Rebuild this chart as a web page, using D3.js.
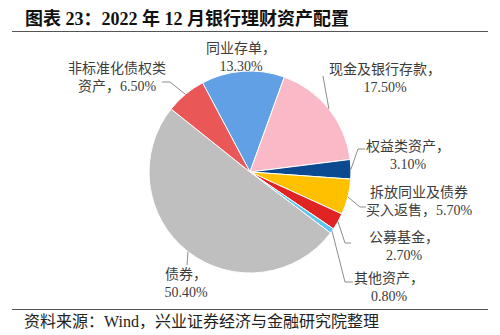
<!DOCTYPE html>
<html>
<head>
<meta charset="utf-8">
<script src="https://cdn.jsdelivr.net/npm/d3@7"></script>
<style>
  html, body { margin: 0; padding: 0; background: #fff; }
  svg { display: block; }
  text { font-family: "Liberation Serif", "Noto Sans CJK SC", serif; }
</style>
</head>
<body>
<svg id="chart" width="500" height="335"></svg>
<script>
// 2022年12月银行理财资产配置（占比，%）
const categories = ["同业存单", "现金及银行存款", "权益类资产", "拆放同业及债券买入返售", "公募基金", "其他资产", "债券", "非标准化债权类资产"];
const shares = [13.3, 17.5, 3.1, 5.7, 2.7, 0.8, 50.4, 6.5];
const valueLabels = ["13.30%", "17.50%", "3.10%", "5.70%", "2.70%", "0.80%", "50.40%", "6.50%"];

// Slice colours
const colors = ["#62A0E6", "#F9B9C7", "#0B4A90", "#FFC000", "#E02424", "#5CC6EF", "#BFBFBF", "#E95757"];

// Label placement: text lines, anchor point and leader line (bend, end)
const labelLayout = [
  { lines: ["同业存单，", "13.30%"], x: 241, y: 53, leader: null },
  { lines: ["现金及银行存款，", "17.50%"], x: 385, y: 74, leader: [[323, 76]] },
  { lines: ["权益类资产，", "3.10%"], x: 408, y: 151, leader: [[358, 149], [365, 149]] },
  { lines: ["拆放同业及债券", "买入返售，5.70%"], x: 419, y: 197, leader: [[360, 207], [366, 207]] },
  { lines: ["公募基金，", "2.70%"], x: 404, y: 242, leader: [[345, 243], [351, 243]] },
  { lines: ["其他资产，", "0.80%"], x: 389, y: 283, leader: [[345, 282], [353, 282]] },
  { lines: ["债券，", "50.40%"], x: 186, y: 279, leader: [[187, 265]] },
  { lines: ["非标准化债权类", "资产，6.50%"], x: 117, y: 73, leader: [[170, 82], [162, 82]] }
];

const svg = d3.select("#chart");
const cx = 250, cy = 172, radius = 101;

// Title
svg.append("text")
  .attr("x", 25).attr("y", 25)
  .attr("font-size", 18).attr("font-weight", "bold").attr("fill", "#111")
  .text("图表 23：2022 年 12 月银行理财资产配置");

// Rules above and below the chart area
svg.append("line").attr("x1", 12).attr("x2", 488).attr("y1", 31.5).attr("y2", 31.5)
  .attr("stroke", "#555").attr("stroke-width", 1);
svg.append("line").attr("x1", 12).attr("x2", 488).attr("y1", 309.5).attr("y2", 309.5)
  .attr("stroke", "#555").attr("stroke-width", 1);

// Source note
svg.append("text")
  .attr("x", 24).attr("y", 327)
  .attr("font-size", 16).attr("fill", "#222")
  .text("资料来源：Wind，兴业证券经济与金融研究院整理");

// Pie
const startAngle = -28 * Math.PI / 180;
const pie = d3.pie().sort(null).value(d => d)
  .startAngle(startAngle).endAngle(startAngle + 2 * Math.PI);
const arcs = pie(shares);
const arc = d3.arc().innerRadius(0).outerRadius(radius);

const g = svg.append("g").attr("transform", `translate(${cx},${cy})`);
g.selectAll("path.slice")
  .data(arcs)
  .join("path")
  .attr("class", "slice")
  .attr("d", arc)
  .attr("fill", (d, i) => colors[i])
  .attr("stroke", "#fff")
  .attr("stroke-width", 1);

// Leader lines from the rim at each slice's mid-angle
const leaderG = svg.append("g");
arcs.forEach((d, i) => {
  const lay = labelLayout[i];
  if (!lay.leader) return;
  const mid = (d.startAngle + d.endAngle) / 2;
  const start = [cx + radius * Math.sin(mid), cy - radius * Math.cos(mid)];
  leaderG.append("path")
    .attr("d", d3.line()([start, ...lay.leader]))
    .attr("fill", "none")
    .attr("stroke", "#8c8c8c")
    .attr("stroke-width", 1);
});

// Category labels
const labelG = svg.append("g");
labelLayout.forEach((lay, i) => {
  const t = labelG.append("text")
    .attr("x", lay.x).attr("y", lay.y)
    .attr("text-anchor", "middle")
    .attr("font-size", 14)
    .attr("fill", "#3c3c3c");
  lay.lines.forEach((ln, k) => {
    t.append("tspan").attr("x", lay.x).attr("dy", k === 0 ? 0 : 18).text(ln);
  });
});
</script>
</body>
</html>
